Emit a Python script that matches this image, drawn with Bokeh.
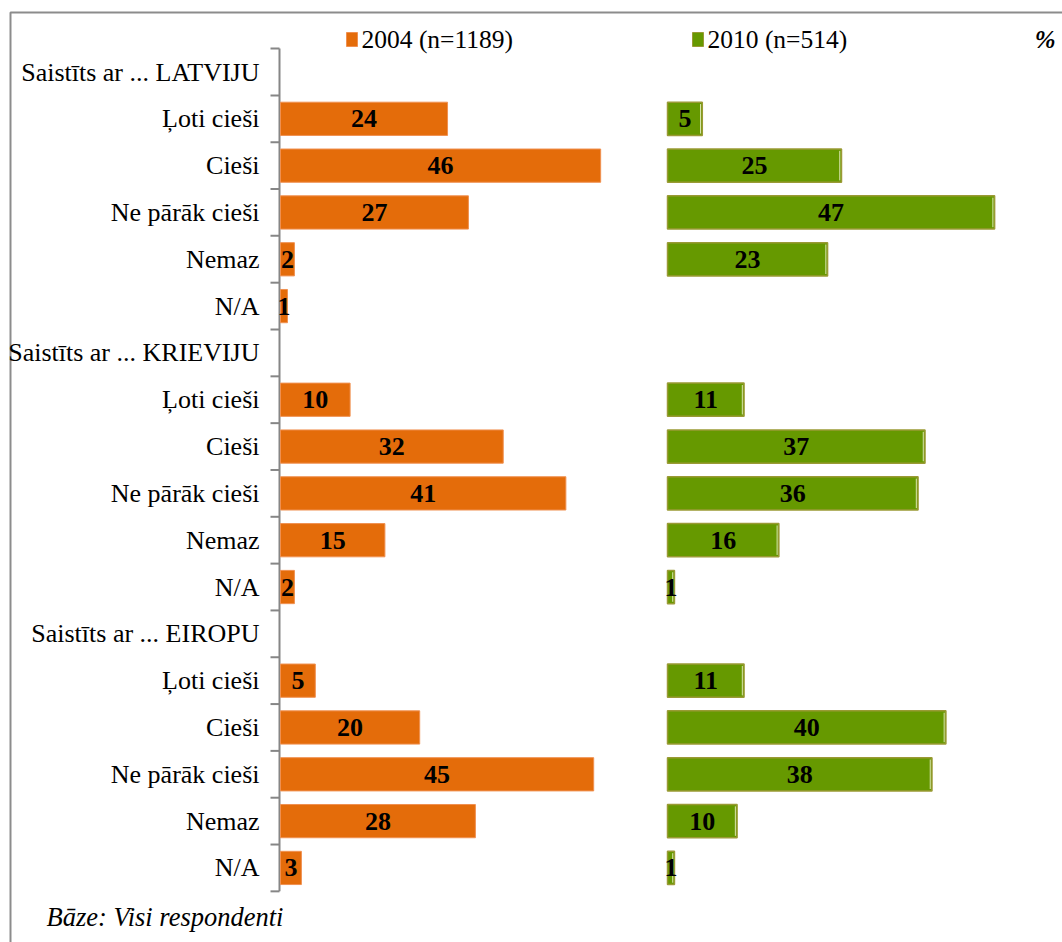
from bokeh.plotting import figure
from bokeh.models import Range1d, ColumnDataSource
from bokeh.core.properties import value
from bokeh.embed import file_html
from bokeh.resources import INLINE

# ---------------- data ----------------
groups = ["Saistīts ar ... LATVIJU", "Saistīts ar ... KRIEVIJU", "Saistīts ar ... EIROPU"]
answers = ["Ļoti cieši", "Cieši", "Ne pārāk cieši", "Nemaz", "N/A"]
series_names = ["2004 (n=1189)", "2010 (n=514)"]
values_2004 = [[24, 46, 27, 2, 1],
               [10, 32, 41, 15, 2],
               [5, 20, 45, 28, 3]]
values_2010 = [[5, 25, 47, 23, None],
               [11, 37, 36, 16, 1],
               [11, 40, 38, 10, 1]]
unit_label = "%"
footnote = "Bāze: Visi respondenti"

# ---------------- layout constants ----------------
W, H = 1062, 942
PX = 6.96            # pixels per percentage point
X0 = 280             # pixel where 2004 bars start
Y0 = 71.5            # pixel centre of first row
DY = 46.82           # row spacing in pixels
OFFSET_2010 = (667 - X0) / PX   # data offset of 2010 panel
FONT = "Liberation Serif"
FS = "26px"
ORANGE = "#E46C0A"
ORANGE_EDGE = "#F09050"
GREEN = "#669900"
GREEN_EDGE = "#9A9A35"

def px_x(px):
    return (px - X0) / PX

def px_y(py):
    return (py - Y0) / DY

p = figure(width=W, height=H, output_backend="svg", toolbar_location=None,
           x_range=Range1d(px_x(0), px_x(W)), y_range=Range1d(px_y(H), px_y(0)),
           min_border=0, outline_line_color=None)
p.axis.visible = False
p.grid.visible = False
p.background_fill_color = "white"
p.border_fill_color = "white"

# outer frame (left/top visible, rest off-canvas)
p.quad(left=[px_x(10)], right=[px_x(W + 40)], top=[px_y(12)], bottom=[px_y(H + 40)],
       fill_alpha=0, line_color="#8C8C8C", line_width=2)

# rows
row_labels, row_y = [], []
bars04 = dict(y=[], right=[], left=[], lx=[], txt=[])
bars10 = dict(y=[], right=[], left=[], lx=[], txt=[], hx=[], y0=[], y1=[])
BH = 0.71
i = 0
for g, grp in enumerate(groups):
    row_labels.append(grp); row_y.append(i); i += 1
    for j, ans in enumerate(answers):
        row_labels.append(ans); row_y.append(i)
        v4 = values_2004[g][j]
        bars04["y"].append(i); bars04["left"].append(0); bars04["right"].append(v4)
        bars04["lx"].append(v4 / 2); bars04["txt"].append(str(v4))
        v10 = values_2010[g][j]
        if v10 is not None:
            bars10["y"].append(i); bars10["left"].append(OFFSET_2010)
            bars10["right"].append(OFFSET_2010 + v10)
            bars10["lx"].append(OFFSET_2010 + v10 / 2); bars10["txt"].append(str(v10))
            bars10["hx"].append(OFFSET_2010 + v10 - 0.25)
            bars10["y0"].append(i - BH / 2 + 0.04); bars10["y1"].append(i + BH / 2 - 0.04)
        i += 1
n_rows = i

# category labels
p.text(x=[px_x(259)] * n_rows, y=row_y, text=row_labels, text_align="right",
       text_baseline="middle", text_font=value(FONT), text_font_size=FS, text_color="black")

# axis line + ticks at row boundaries
p.segment(x0=[px_x(279)], x1=[px_x(279)], y0=[-0.5], y1=[n_rows - 0.5],
          line_color="#868686", line_width=2)
bounds = [k - 0.5 for k in range(n_rows + 1)]
p.segment(x0=[px_x(270)] * len(bounds), x1=[px_x(279)] * len(bounds), y0=bounds, y1=bounds,
          line_color="#868686", line_width=2)

s4 = ColumnDataSource(bars04)
s10 = ColumnDataSource(bars10)
p.hbar(y="y", left="left", right="right", height=BH, source=s4,
       fill_color=ORANGE, line_color=ORANGE_EDGE, line_width=1)
p.hbar(y="y", left="left", right="right", height=BH, source=s10,
       fill_color=GREEN, line_color=GREEN_EDGE, line_width=1.5)
# light highlight near right end (3D look)
p.segment(x0="hx", x1="hx", y0="y0", y1="y1", source=s10, line_color="#DDE6B0", line_width=1)

p.text(x="lx", y="y", text="txt", source=s4, text_align="center", text_baseline="middle",
       text_font=value(FONT), text_font_size=FS, text_font_style="bold", text_color="black")
p.text(x="lx", y="y", text="txt", source=s10, text_align="center", text_baseline="middle",
       text_font=value(FONT), text_font_size=FS, text_font_style="bold", text_color="black")

# legend
ly = px_y(39)
p.rect(x=[px_x(351.5), px_x(697.5)], y=[ly, ly], width=11 / PX, height=14 / DY,
       fill_color=[ORANGE, GREEN], line_color=[ORANGE_EDGE, GREEN_EDGE], line_width=1)
p.text(x=[px_x(361), px_x(707)], y=[ly, ly], text=series_names, text_align="left",
       text_baseline="middle", text_font=value(FONT), text_font_size="25.5px", text_color="black")
p.text(x=[px_x(1055)], y=[ly], text=[unit_label], text_align="right", text_baseline="middle",
       text_font=value(FONT), text_font_size="25px", text_font_style="bold italic",
       text_color="black")

# footnote
p.text(x=[px_x(46)], y=[px_y(916)], text=[footnote], text_align="left", text_baseline="middle",
       text_font=value(FONT), text_font_size="26.5px", text_font_style="italic", text_color="black")

open("out.html", "w").write(file_html(p, INLINE))
